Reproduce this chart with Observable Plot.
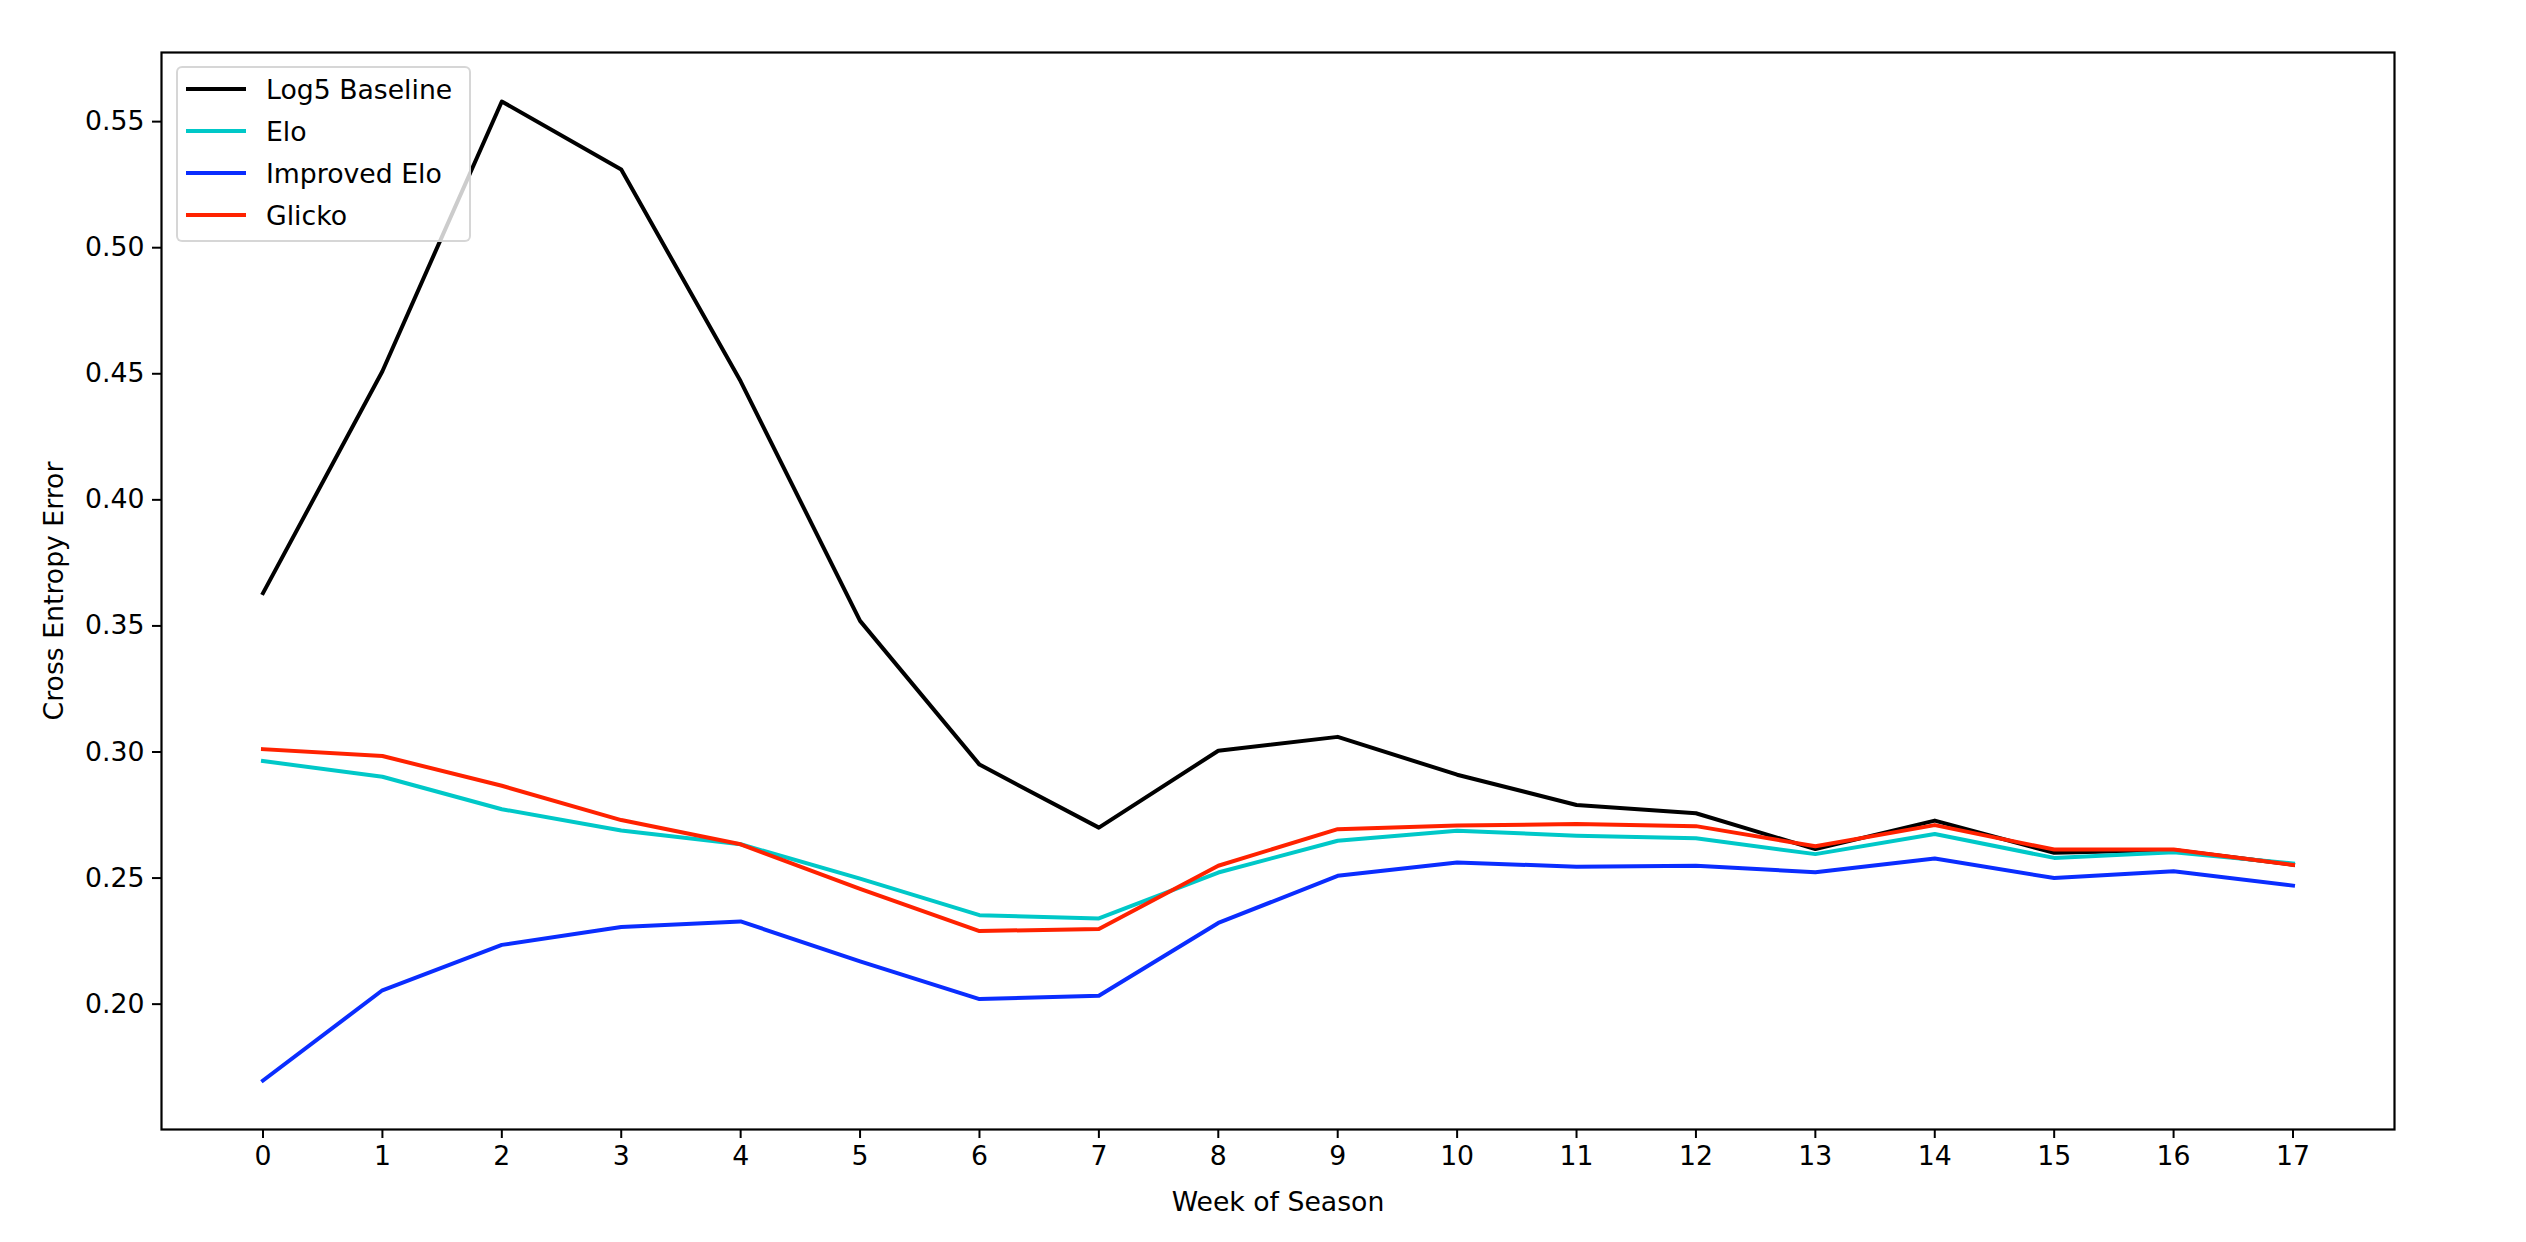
<!DOCTYPE html>
<html>
<head>
<meta charset="utf-8">
<script src="https://cdn.jsdelivr.net/npm/d3@7"></script>
<script src="https://cdn.jsdelivr.net/npm/@observablehq/plot@0.6"></script>
<style>
  html, body { margin: 0; padding: 0; background: #fff; }
  #wrap { position: relative; width: 2526px; height: 1242px; font-family: "DejaVu Sans", sans-serif; }
  #legend { position: absolute; left: 176px; top: 66px; width: 295px; height: 176px; box-sizing: border-box;
            border: 2px solid rgba(204,204,204,0.8); border-radius: 6px; background: rgba(255,255,255,0.8);
            padding: 0; }
  .row { display: flex; align-items: center; height: 42px; }
  .row svg { margin-left: 8px; margin-right: 20px; }
  .row span { font-size: 26.7px; color: #000; white-space: nowrap; }
</style>
</head>
<body>
<div id="wrap"><div id="legend"></div></div>
<script>
const weeks = [0, 1, 2, 3, 4, 5, 6, 7, 8, 9, 10, 11, 12, 13, 14, 15, 16, 17];
const seriesNames = ["Log5 Baseline", "Elo", "Improved Elo", "Glicko"];
const seriesColors = ["#000000", "#00c8c8", "#0a2dff", "#ff2200"];
const log5 = [0.363, 0.451, 0.558, 0.531, 0.447, 0.352, 0.295, 0.270, 0.3005, 0.306, 0.291, 0.279, 0.2757, 0.2615, 0.2728, 0.2600, 0.2611, 0.2553];
const elo = [0.2964, 0.2902, 0.2773, 0.2689, 0.2634, 0.2498, 0.2353, 0.2340, 0.2522, 0.2648, 0.2688, 0.2668, 0.2658, 0.2595, 0.2675, 0.2580, 0.2602, 0.2558];
const improvedElo = [0.1697, 0.2055, 0.2235, 0.2306, 0.2328, 0.2170, 0.2020, 0.2033, 0.2322, 0.2509, 0.2562, 0.2545, 0.2549, 0.2523, 0.2578, 0.2500, 0.2527, 0.2470];
const glicko = [0.3011, 0.2984, 0.2866, 0.2730, 0.2634, 0.2457, 0.2290, 0.2298, 0.2549, 0.2694, 0.2708, 0.2714, 0.2706, 0.2626, 0.2710, 0.2613, 0.2613, 0.2552];
const yTicks = [0.20, 0.25, 0.30, 0.35, 0.40, 0.45, 0.50, 0.55];

const seriesValues = [log5, elo, improvedElo, glicko];
const rows = [];
seriesNames.forEach((name, i) => {
  weeks.forEach((w, j) => rows.push({series: name, week: w, value: seriesValues[i][j]}));
});

// matplotlib-style 5% margins
const allVals = seriesValues.flat();
const [ymin, ymax] = d3.extent(allVals);
const ypad = (ymax - ymin) * 0.05;
const [xmin, xmax] = d3.extent(weeks);
const xpad = (xmax - xmin) * 0.05;

const chart = Plot.plot({
  width: 2526,
  height: 1242,
  marginLeft: 161,
  marginRight: 132,
  marginTop: 52,
  marginBottom: 113,
  style: {fontFamily: "DejaVu Sans, sans-serif", fontSize: "26.7px", background: "#fff", color: "#000"},
  x: {domain: [xmin - xpad, xmax + xpad]},
  y: {domain: [ymin - ypad, ymax + ypad]},
  marks: [
    ...seriesNames.map((name, i) =>
      Plot.line(rows.filter(d => d.series === name), {
        x: "week", y: "value", stroke: seriesColors[i], strokeWidth: 4, strokeLinejoin: "round", strokeLinecap: "square"
      })
    ),
    Plot.frame({stroke: "#000", strokeWidth: 2.2}),
    Plot.axisX({ticks: weeks, tickFormat: d => String(d), tickSize: 9, tickPadding: 8, strokeWidth: 2,
      label: "Week of Season", labelAnchor: "center", labelArrow: "none", labelOffset: 81, fontSize: 26.7}),
    Plot.axisY({ticks: yTicks, tickFormat: ".2f", tickSize: 9, tickPadding: 8, strokeWidth: 2,
      label: "Cross Entropy Error", labelAnchor: "center", labelArrow: "none", labelOffset: 117, fontSize: 26.7})
  ]
});
document.getElementById("wrap").insertBefore(chart, document.getElementById("legend"));

const legend = document.getElementById("legend");
seriesNames.forEach((name, i) => {
  const row = document.createElement("div");
  row.className = "row";
  row.innerHTML = `<svg width="60" height="10"><line x1="0" y1="5" x2="60" y2="5" stroke="${seriesColors[i]}" stroke-width="4"/></svg><span>${name}</span>`;
  legend.appendChild(row);
});
</script>
</body>
</html>
